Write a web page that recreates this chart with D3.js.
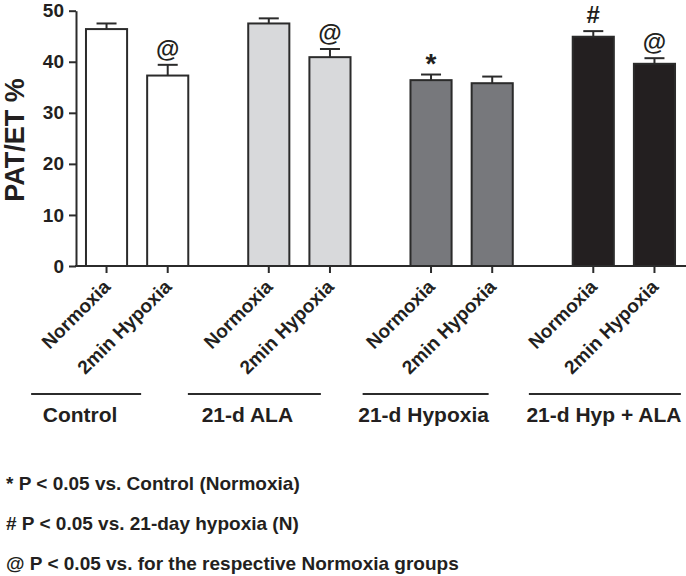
<!DOCTYPE html>
<html>
<head>
<meta charset="utf-8">
<script src="https://cdn.jsdelivr.net/npm/d3@7"></script>
<style>
  body { margin: 0; background: #fff; }
  svg { display: block; font-family: "Liberation Sans", Arial, sans-serif; font-weight: bold; }
</style>
</head>
<body>
<svg id="chart"></svg>
<script>
// groups and conditions on the x axis
const groups = ["Control", "21-d ALA", "21-d Hypoxia", "21-d Hyp + ALA"];
const conditions = ["Normoxia", "2min Hypoxia"];

// PAT/ET % means and SEM, one entry per group
const normoxia = [46.4, 47.5, 36.4, 44.9];
const normoxiaErr = [1.1, 1.0, 1.1, 1.1];
const hypoxia2min = [37.3, 40.9, 35.8, 39.6];
const hypoxia2minErr = [2.1, 1.6, 1.3, 1.1];

// significance marks, "" when none
const normoxiaMarks = ["", "", "*", "#"];
const hypoxiaMarks = ["@", "@", "", "@"];

const yTicks = [0, 10, 20, 30, 40, 50];
const footnotes = [
  "* P < 0.05 vs. Control (Normoxia)",
  "# P < 0.05 vs. 21-day hypoxia (N)",
  "@ P < 0.05 vs. for the respective Normoxia groups"
];

const fills = ["#ffffff", "#d8d9db", "#77787c", "#231f20"];
const ink = "#2b2b2b";

const width = 686, height = 576;

const rows = [];
groups.forEach((g, i) => {
  rows.push({ group: g, cond: conditions[0], value: normoxia[i], err: normoxiaErr[i], mark: normoxiaMarks[i], gi: i });
  rows.push({ group: g, cond: conditions[1], value: hypoxia2min[i], err: hypoxia2minErr[i], mark: hypoxiaMarks[i], gi: i });
});

const svg = d3.select("#chart").attr("width", width).attr("height", height);

const y = d3.scaleLinear().domain([0, 50]).range([266, 10.7]);
const x0 = d3.scaleBand().domain(groups).range([56, 705]);
const x1 = d3.scaleBand().domain(conditions).range([0, x0.bandwidth()])
  .paddingInner(0.328).paddingOuter(0.49);
const cx = d => x0(d.group) + x1(d.cond) + x1.bandwidth() / 2;
const axisX = 76;

// bars
svg.append("g")
  .selectAll("rect")
  .data(rows)
  .join("rect")
  .attr("x", d => x0(d.group) + x1(d.cond))
  .attr("y", d => y(d.value))
  .attr("width", x1.bandwidth())
  .attr("height", d => y(0) - y(d.value))
  .attr("fill", d => fills[d.gi])
  .attr("stroke", ink)
  .attr("stroke-width", 2);

// error bars (upper only)
const eb = svg.append("g").attr("stroke", ink).attr("stroke-width", 2);
eb.selectAll("line.v")
  .data(rows)
  .join("line")
  .attr("class", "v")
  .attr("x1", cx).attr("x2", cx)
  .attr("y1", d => y(d.value)).attr("y2", d => y(d.value + d.err));
eb.selectAll("line.cap")
  .data(rows)
  .join("line")
  .attr("class", "cap")
  .attr("x1", d => cx(d) - 10).attr("x2", d => cx(d) + 10)
  .attr("y1", d => y(d.value + d.err)).attr("y2", d => y(d.value + d.err));

// significance marks
svg.append("g")
  .attr("fill", "#231f20")
  .attr("text-anchor", "middle")
  .selectAll("text")
  .data(rows.filter(d => d.mark))
  .join("text")
  .attr("x", cx)
  .attr("y", d => y(d.value + d.err) - (d.mark === "*" ? 2 : 8))
  .attr("font-size", d => d.mark === "*" ? 28 : 24)
  .text(d => d.mark);

// y axis
const yAxis = svg.append("g")
  .attr("transform", `translate(${axisX},0)`)
  .call(d3.axisLeft(y).tickValues(yTicks).tickSize(7).tickSizeOuter(0).tickPadding(5));
yAxis.select(".domain").attr("stroke", ink).attr("stroke-width", 2);
yAxis.selectAll(".tick line").attr("stroke", ink).attr("stroke-width", 2);
yAxis.selectAll(".tick text")
  .attr("fill", "#231f20")
  .attr("font-size", 19)
  .attr("font-family", "Liberation Sans, Arial, sans-serif")
  .attr("font-weight", "bold");

// x axis line and ticks
svg.append("line")
  .attr("x1", axisX - 1).attr("x2", 686)
  .attr("y1", y(0)).attr("y2", y(0))
  .attr("stroke", ink).attr("stroke-width", 2);
svg.append("g")
  .selectAll("line")
  .data(rows)
  .join("line")
  .attr("x1", cx).attr("x2", cx)
  .attr("y1", y(0)).attr("y2", y(0) + 7)
  .attr("stroke", ink).attr("stroke-width", 2);

// rotated condition labels
svg.append("g")
  .attr("fill", "#231f20")
  .attr("font-size", 19)
  .attr("text-anchor", "end")
  .selectAll("text")
  .data(rows)
  .join("text")
  .attr("transform", d => `translate(${cx(d) + 5},288) rotate(-45)`)
  .text(d => d.cond);

// group underline and label
const groupShift = [-51, -45, -36, -19];
const lineWidths = [110, 133, 126, 152];
const labelShift = [-6, -7, -2, -1];
const gl = svg.append("g");
gl.selectAll("line")
  .data(groups)
  .join("line")
  .attr("x1", (g, i) => x0(g) + x0.bandwidth() / 2 + groupShift[i] - lineWidths[i] / 2)
  .attr("x2", (g, i) => x0(g) + x0.bandwidth() / 2 + groupShift[i] + lineWidths[i] / 2)
  .attr("y1", 394).attr("y2", 394)
  .attr("stroke", ink).attr("stroke-width", 2);
gl.selectAll("text")
  .data(groups)
  .join("text")
  .attr("x", (g, i) => x0(g) + x0.bandwidth() / 2 + groupShift[i] + labelShift[i])
  .attr("y", 422)
  .attr("text-anchor", "middle")
  .attr("font-size", 21)
  .attr("fill", "#231f20")
  .text(g => g);

// y axis title
svg.append("text")
  .attr("transform", "translate(24,140) rotate(-90)")
  .attr("text-anchor", "middle")
  .attr("font-size", 27)
  .attr("fill", "#231f20")
  .text("PAT/ET %");

// footnotes
svg.append("g")
  .attr("font-size", 19)
  .attr("fill", "#231f20")
  .selectAll("text")
  .data(footnotes)
  .join("text")
  .attr("x", 6)
  .attr("y", (d, i) => 490 + i * 40)
  .text(d => d);
</script>
</body>
</html>
